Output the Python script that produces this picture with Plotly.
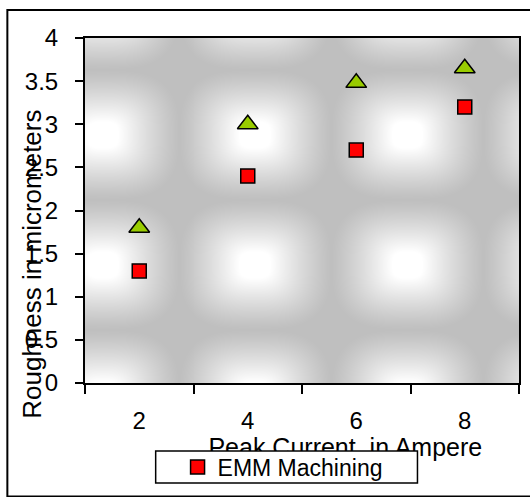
import numpy as np
import plotly.graph_objects as go

# Peak current (A) and measured surface roughness (micrometers)
peak_current = [2, 4, 6, 8]
roughness_emm = [1.30, 2.40, 2.70, 3.20]
roughness_other = [1.80, 3.00, 3.48, 3.65]
series_name = "EMM Machining"

x_tick_vals = [2, 4, 6, 8]
x_tick_text = ["2", "4", "6", "8"]
y_tick_vals = [0, 0.5, 1, 1.5, 2, 2.5, 3, 3.5, 4]
y_tick_text = ["0", "0.5", "1", "1.5", "2", "2.5", "3", "3.5", "4"]

W, H = 530, 497
L, R, T, B = 85, 521, 38, 383          # plot area in pixels
XR = [1, 9]
YR = [0, 4]
FONT = "Liberation Sans, Arial, sans-serif"


def px_to_paper_x(px):
    return (px - L) / (R - L)


def px_to_paper_y(py):
    return (B - py) / (B - T)


# --- tiled "from centre" grey gradient used as the plot-area fill ---
xs = np.arange(L, R) + 0.5
ys = np.arange(T, B) + 0.5
PX, PY = np.meshgrid(xs, ys[::-1])      # rows from bottom to top
tile_w, tile_h = 153.0, 130.0
cx0, cy0 = 103.0, 135.0
dx = np.abs(((PX - cx0 + tile_w / 2) % tile_w) - tile_w / 2) / (tile_w / 2)
dy = np.abs(((PY - cy0 + tile_h / 2) % tile_h) - tile_h / 2) / (tile_h / 2)
r = (dx ** 3 + dy ** 3) ** (1 / 3)
shade = np.clip((1 - r) / 0.8, 0, 1) ** 1.2
bg = np.round(191 + 64 * shade).astype(np.uint8)

x_edges = XR[0] + (np.arange(L, R + 1) - L) / (R - L) * (XR[1] - XR[0])
y_edges = (B - np.arange(B, T - 1, -1)) / (B - T) * (YR[1] - YR[0])

fig = go.Figure()
fig.add_trace(go.Heatmap(
    z=bg, x=x_edges, y=y_edges,
    colorscale=[[0, "rgb(0,0,0)"], [1, "rgb(255,255,255)"]],
    zmin=0, zmax=255, showscale=False, hoverinfo="skip", showlegend=False,
))

fig.add_trace(go.Scatter(
    x=peak_current, y=roughness_other, mode="markers", showlegend=False,
    marker=dict(symbol="triangle-up", size=18, color="#99CC00",
                line=dict(color="black", width=1.5)),
))
fig.add_trace(go.Scatter(
    x=peak_current, y=roughness_emm, mode="markers", name=series_name,
    marker=dict(symbol="square", size=14, color="#FF0000",
                line=dict(color="black", width=1.5)),
))

shapes = [
    # outer chart border
    dict(type="rect", xref="paper", yref="paper",
         x0=px_to_paper_x(7), x1=px_to_paper_x(540),
         y0=px_to_paper_y(496.5), y1=px_to_paper_y(10),
         line=dict(color="black", width=2), fillcolor="rgba(0,0,0,0)", layer="below"),
    # x-axis title (drawn before the legend box so the box overlaps it)
    dict(type="rect", xref="paper", yref="paper",
         x0=px_to_paper_x(200), x1=px_to_paper_x(493),
         y0=px_to_paper_y(461), y1=px_to_paper_y(429),
         line=dict(width=0), fillcolor="rgba(0,0,0,0)",
         label=dict(text="Peak Current  in Ampere", textposition="middle center",
                    font=dict(family=FONT, size=25, color="black"))),
    # legend frame
    dict(type="rect", xref="paper", yref="paper",
         x0=px_to_paper_x(156), x1=px_to_paper_x(419),
         y0=px_to_paper_y(483), y1=px_to_paper_y(451),
         line=dict(color="black", width=1.5), fillcolor="white"),
]

fig.update_layout(
    width=W, height=H,
    margin=dict(l=L, r=W - R, t=T, b=H - B, pad=0),
    paper_bgcolor="white", plot_bgcolor="#c0c0c0",
    font=dict(family=FONT, color="black", size=23),
    shapes=shapes,
    showlegend=True,
    legend=dict(x=px_to_paper_x(178), xanchor="left",
                y=px_to_paper_y(467), yanchor="middle",
                bgcolor="rgba(0,0,0,0)", borderwidth=0,
                font=dict(family=FONT, size=23, color="black")),
    annotations=[dict(
        text="Roughness in micrometers", textangle=-90, showarrow=False,
        xref="paper", yref="paper", x=px_to_paper_x(31), y=px_to_paper_y(264.5),
        xanchor="center", yanchor="middle",
        font=dict(family=FONT, size=26, color="black"))],
)

fig.update_xaxes(
    range=XR, showgrid=False, zeroline=False,
    tickmode="array", tickvals=x_tick_vals, ticktext=x_tick_text, ticks="",
    ticklabelstandoff=15,
    minor=dict(tick0=1, dtick=2, ticks="outside", ticklen=9, tickwidth=2,
               tickcolor="black", showgrid=False),
    showline=True, linecolor="black", linewidth=2, mirror=True,
    tickfont=dict(family=FONT, size=24, color="black"),
)
fig.update_yaxes(
    range=YR, showgrid=False, zeroline=False,
    tickmode="array", tickvals=y_tick_vals, ticktext=y_tick_text,
    ticks="outside", ticklen=8, tickwidth=2, tickcolor="black",
    ticklabelstandoff=12,
    showline=True, linecolor="black", linewidth=2, mirror=True,
    tickfont=dict(family=FONT, size=24, color="black"),
)

fig.write_html("out.html")
